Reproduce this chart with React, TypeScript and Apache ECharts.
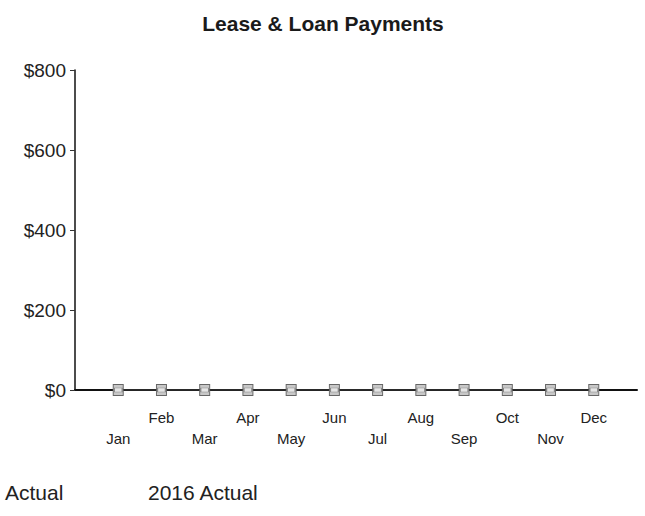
import React, { useEffect, useRef } from "react";
import * as echarts from "echarts";

const months = ["", "Jan", "Feb", "Mar", "Apr", "May", "Jun", "Jul", "Aug", "Sep", "Oct", "Nov", "Dec", ""];
const actual = [null, 0, 0, 0, 0, 0, 0, 0, 0, 0, 0, 0, 0, null];
const actual2016 = [null, 0, 0, 0, 0, 0, 0, 0, 0, 0, 0, 0, 0, null];
const seriesNames = ["Actual", "2016 Actual"];
const yMin = 0;
const yMax = 800;
const yInterval = 200;

export default function App() {
  const ref = useRef<HTMLDivElement>(null);
  useEffect(() => {
    if (!ref.current) return;
    const chart = echarts.init(ref.current, undefined, { renderer: "svg" });
    const font = "Liberation Sans, Arial, sans-serif";
    chart.setOption({
      animation: false,
      backgroundColor: "#ffffff",
      title: {
        text: "Lease & Loan Payments",
        left: 318,
        textAlign: "center",
        top: 8,
        textStyle: { fontFamily: font, fontSize: 21, fontWeight: "bold", color: "#1a1a1a" },
      },
      grid: { left: 75, right: 8, top: 70, bottom: 126, containLabel: false },
      xAxis: {
        type: "category",
        data: months,
        boundaryGap: false,
        axisLine: { lineStyle: { color: "#111", width: 2 } },
        axisTick: { show: false },
        axisLabel: {
          interval: 0,
          fontFamily: font,
          fontSize: 15,
          color: "#222",
          margin: 17,
          lineHeight: 21,
          formatter: (v: string, i: number) => (i % 2 === 1 ? "\n" + v : v),
        },
        splitLine: { show: false },
      },
      yAxis: {
        type: "value",
        min: yMin,
        max: yMax,
        interval: yInterval,
        axisLine: { show: true, lineStyle: { color: "#111", width: 1.5 } },
        axisTick: { show: true, length: 5, lineStyle: { color: "#333" } },
        axisLabel: {
          fontFamily: font,
          fontSize: 19,
          color: "#222",
          margin: 9,
          formatter: (v: number) => "$" + v,
        },
        splitLine: { show: false },
      },
      series: [
        {
          name: seriesNames[0],
          type: "line",
          data: actual,
          symbol: "rect",
          symbolSize: [10, 11],
          itemStyle: { color: "#c8c8c8", borderColor: "#666", borderWidth: 1 },
          lineStyle: { color: "#222", width: 2 },
          z: 3,
        },
        {
          name: seriesNames[1],
          type: "line",
          data: actual2016,
          symbol: "rect",
          symbolSize: [8, 4],
          itemStyle: { color: "#e6e6e6", borderColor: "#888", borderWidth: 1 },
          lineStyle: { color: "#333", width: 1 },
          z: 4,
        },
      ],
      graphic: [
        {
          type: "text",
          left: 5,
          top: 482,
          style: { text: seriesNames[0], fontFamily: font, fontSize: 21, fill: "#222" },
        },
        {
          type: "text",
          left: 148,
          top: 482,
          style: { text: seriesNames[1], fontFamily: font, fontSize: 21, fill: "#222" },
        },
      ],
    });
    return () => chart.dispose();
  }, []);
  return <div ref={ref} style={{ width: 645, height: 516, position: "absolute", left: 0, top: 0 }} />;
}
